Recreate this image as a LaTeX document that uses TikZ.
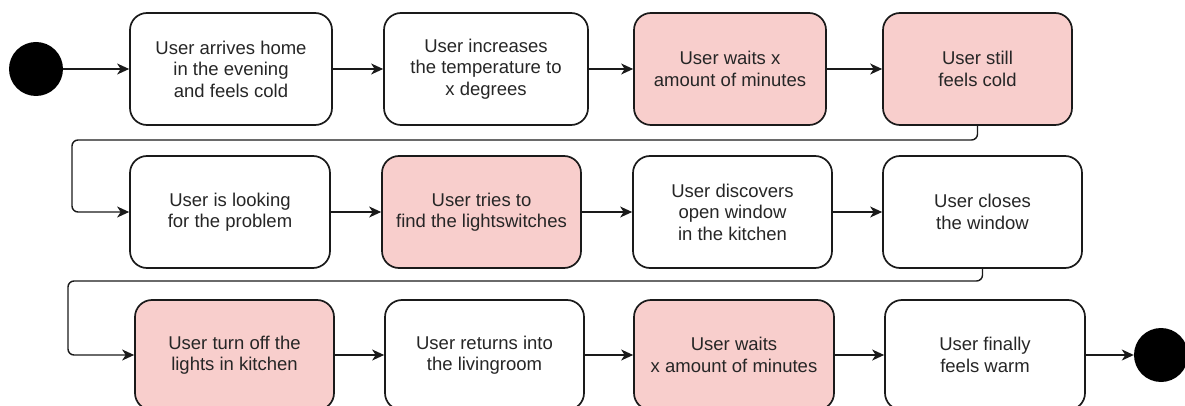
\documentclass[tikz,border=0pt]{standalone}
\usepackage{fontspec}
\setmainfont{Liberation Sans}
\usetikzlibrary{arrows.meta}
\definecolor{pinkfill}{HTML}{F8CECC}
\definecolor{inkline}{HTML}{1A1A1A}
\begin{document}
\begin{tikzpicture}[x=1pt,y=-1pt,
  state/.style={draw=inkline, line width=1.7pt, rounded corners=17pt, fill=white,
    align=center, inner sep=0pt, text=black!85,
    font=\fontsize{18.5}{21.5}\selectfont, minimum height=112pt},
  alert/.style={state, fill=pinkfill},
  dot/.style={circle, fill=black, minimum size=54pt, inner sep=0pt},
  flow/.style={draw=inkline, line width=1.4pt, rounded corners=6pt,
    -{Stealth[length=12pt,width=11pt,inset=3.5pt]}},
]
\useasboundingbox (0,0) rectangle (1185,406);

% initial and final states
\node[dot] (start) at (36,69) {};
\node[dot] (stop) at (1161,355) {};

% first row
\node[state, minimum width=202pt] (b1) at (231,69) {User arrives home\\in the evening\\and feels cold};
\node[state, minimum width=204pt] (b2) at (486,69) {User increases\\the temperature to\\x degrees};
\node[alert, minimum width=192pt] (b3) at (730,69) {User waits x\\amount of minutes};
\node[alert, minimum width=189pt] (b4) at (977.5,69) {User still\\feels cold};

% second row
\node[state, minimum width=200pt] (b5) at (230,212) {User is looking\\for the problem};
\node[alert, minimum width=199pt] (b6) at (481.5,212) {User tries to\\find the lightswitches};
\node[state, minimum width=199pt] (b7) at (732.5,212) {User discovers\\open window\\in the kitchen};
\node[state, minimum width=199pt] (b8) at (982.5,212) {User closes\\the window};

% third row
\node[alert, minimum width=199pt, minimum height=110pt] (b9) at (234.5,355) {User turn off the\\lights in kitchen};
\node[state, minimum width=199pt, minimum height=110pt] (b10) at (484.5,355) {User returns into\\the livingroom};
\node[alert, minimum width=200pt, minimum height=110pt] (b11) at (734,355) {User waits\\x amount of minutes};
\node[state, minimum width=200pt, minimum height=110pt] (b12) at (985,355) {User finally\\feels warm};

% turning points of the row-wrapping connectors
\coordinate (r1) at (72,140);
\coordinate (r2) at (68,281);

% connectors
\draw[flow] (start) -- (b1);
\draw[flow] (b1.east) -- (b2.west);
\draw[flow] (b2.east) -- (b3.west);
\draw[flow] (b3.east) -- (b4.west);
\draw[flow] (b4.south) -- (b4.south |- r1) -- (r1) -- (r1 |- b5.west) -- (b5.west);
\draw[flow] (b5.east) -- (b6.west);
\draw[flow] (b6.east) -- (b7.west);
\draw[flow] (b7.east) -- (b8.west);
\draw[flow] (b8.south) -- (b8.south |- r2) -- (r2) -- (r2 |- b9.west) -- (b9.west);
\draw[flow] (b9.east) -- (b10.west);
\draw[flow] (b10.east) -- (b11.west);
\draw[flow] (b11.east) -- (b12.west);
\draw[flow] (b12.east) -- (stop);
\end{tikzpicture}
\end{document}
